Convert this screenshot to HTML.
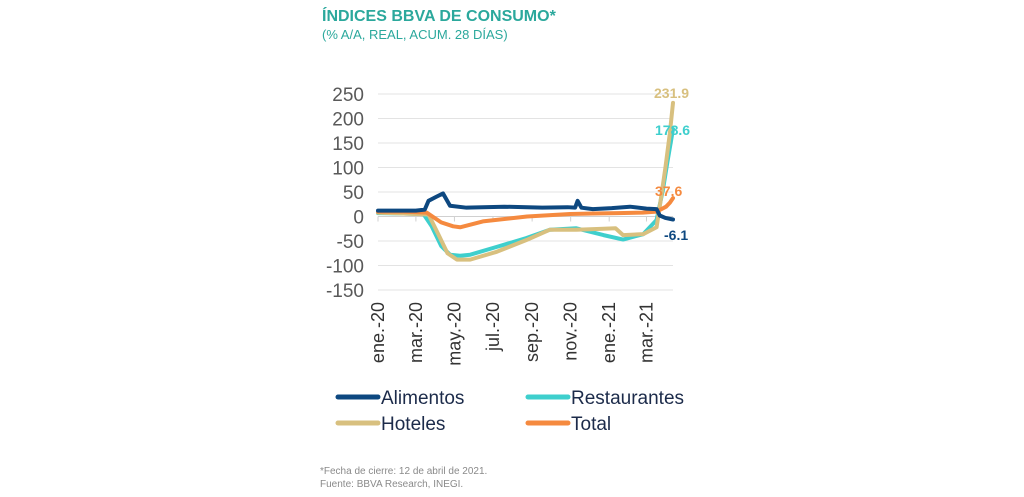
<!DOCTYPE html>
<html><head><meta charset="utf-8"><style>
body{margin:0;background:#fff;}
#wrap{position:relative;width:1024px;height:497px;overflow:hidden;font-family:"Liberation Sans",sans-serif;}
.t{position:absolute;white-space:nowrap;}
</style></head><body>
<div id="wrap">
<div class="t" style="left:322px;top:8px;font-size:16px;font-weight:bold;color:#2BA89C;">ÍNDICES BBVA DE CONSUMO*</div>
<div class="t" style="left:322px;top:27px;font-size:13px;color:#2BA89C;">(% A/A, REAL, ACUM. 28 DÍAS)</div>
<svg id="svg" width="1024" height="497" style="position:absolute;left:0;top:0"></svg>
<div class="t" style="left:320px;top:466px;font-size:10px;color:#8a8a8a;">*Fecha de cierre: 12 de abril de 2021.</div>
<div class="t" style="left:320px;top:479px;font-size:10px;color:#8a8a8a;">Fuente: BBVA Research, INEGI.</div>
</div>
<script>
const yTicks=[250,200,150,100,50,0,-50,-100,-150];
const xTickLabels=["ene.-20","mar.-20","may.-20","jul.-20","sep.-20","nov.-20","ene.-21","mar.-21"];
const xTickDays=[0,60,121,182,244,305,366,425];
const alimDays=[0,60,74,80,92,103,114,140,200,260,300,312,316,322,340,370,399,425,441,446,455,467];
const alimVals=[12,12,14,32,40,47,22,18,20,18,19,18,32,18,15,17,20,16,15,2,-3,-6.1];
const restDays=[0,40,72,85,100,114,130,146,188,235,272,314,357,388,420,441,451,458,465,467];
const restVals=[7,6,5,-20,-60,-78,-80,-78,-62,-44,-27,-24,-38,-47,-36,-7,54,110,163,178.6];
const hotDays=[0,40,80,95,110,125,146,188,235,272,314,357,376,388,420,441,446,455,462,467];
const hotVals=[8,6,4,-35,-75,-88,-88,-72,-48,-27,-27,-25,-24,-38,-36,-22,20,100,170,231.9];
const totDays=[0,40,77,100,119,130,166,236,304,340,380,419,441,456,462,467];
const totVals=[10,10,8,-12,-20,-22,-10,0,5,6,7,8,10,20,28,37.6];
const x0=378,x1=673,dMax=467,yTop=94,yBot=290,vTop=250,vBot=-150;
const X=d=>x0+(x1-x0)*d/dMax;
const Y=v=>yTop+(yBot-yTop)*(vTop-v)/(vTop-vBot);
const svg=document.getElementById('svg');
const NS='http://www.w3.org/2000/svg';
function mk(tag,attrs){const e=document.createElementNS(NS,tag);for(const k in attrs)e.setAttribute(k,attrs[k]);svg.appendChild(e);return e;}
yTicks.forEach(v=>{
  const g=mk('line',{x1:x0,x2:x1,y1:Y(v),y2:Y(v),stroke:'#e3e3e3','stroke-width':1});
  
  
  const t=mk('text',{x:364,y:Y(v)+7,'text-anchor':'end','font-size':19,fill:'#595959','font-family':'Liberation Sans, sans-serif'});
  t.textContent=v;
  
  
});
const ax=mk('line',{x1:x0,x2:x1,y1:Y(0),y2:Y(0),stroke:'#d0d0d0','stroke-width':1});


xTickLabels.forEach((l,i)=>{
  const x=X(xTickDays[i]);
  const tk=mk('line',{x1:x,x2:x,y1:Y(0),y2:Y(0)+5,stroke:'#d0d0d0'});
  
  
  const t=mk('text',{x:0,y:0,'text-anchor':'end','font-size':18,fill:'#333','font-family':'Liberation Sans, sans-serif',transform:`translate(${x+6},302) rotate(-90)`});
  t.textContent=l;
  
  
});
function series(days,vals,color,name){
  const p=mk('polyline',{points:days.map((d,i)=>X(d)+','+Y(vals[i])).join(' '),fill:'none',stroke:color,'stroke-width':4,'stroke-linejoin':'round','stroke-linecap':'round'});
  
  
}
series(restDays,restVals,'#3ECFCD','line-restaurantes');
series(hotDays,hotVals,'#D8C07F','line-hoteles');
series(totDays,totVals,'#F58A3F','line-total');
series(alimDays,alimVals,'#0D4880','line-alimentos');
function endLabel(txt,x,y,color,name){
  const t=mk('text',{x:x,y:y,'font-size':14,'font-weight':'bold',fill:color,'font-family':'Liberation Sans, sans-serif'});
  t.textContent=txt;
  
  
}
endLabel(hotVals[hotVals.length-1].toFixed(1),654,98,'#D8C07F','label-hoteles-end');
endLabel(restVals[restVals.length-1].toFixed(1),655,135,'#3ECFCD','label-restaurantes-end');
endLabel(totVals[totVals.length-1].toFixed(1),655,196,'#F58A3F','label-total-end');
endLabel(alimVals[alimVals.length-1].toFixed(1),664,240,'#0D4880','label-alimentos-end');
const legend=[["Alimentos",'#0D4880',338,397],["Restaurantes",'#3ECFCD',528,397],["Hoteles",'#D8C07F',338,423],["Total",'#F58A3F',528,423]];
legend.forEach(l=>{
  const ln=mk('line',{x1:l[2],x2:l[2]+40,y1:l[3],y2:l[3],stroke:l[1],'stroke-width':5,'stroke-linecap':'round'});
  
  
  const t=mk('text',{x:l[2]+43,y:l[3]+7,'font-size':19,fill:'#1C2B4A','font-family':'Liberation Sans, sans-serif'});
  t.textContent=l[0];
  
  
});
</script>
</body></html>
